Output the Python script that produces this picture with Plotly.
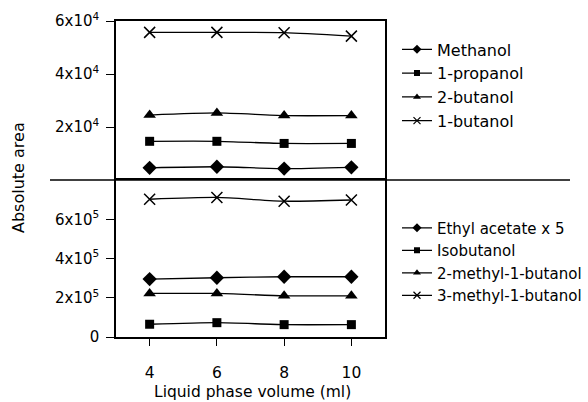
import plotly.graph_objects as go

# Liquid phase volume (ml)
volume = [4, 6, 8, 10]

# Upper panel: absolute peak areas
methanol = [4600, 5000, 4300, 4800]
propanol_1 = [14600, 14600, 13800, 13800]
butanol_2 = [24500, 25300, 24300, 24300]
butanol_1 = [55700, 55700, 55600, 54300]

# Lower panel: absolute peak areas
ethyl_acetate_x5 = [295000, 302000, 307000, 307000]
isobutanol = [65000, 73000, 63000, 63000]
methyl_2_butanol_1 = [222000, 222000, 210000, 210000]
methyl_3_butanol_1 = [702000, 711000, 692000, 698000]

top_ticks = [20000, 40000, 60000]
top_ticktext = ["2x10<sup>4</sup>", "4x10<sup>4</sup>", "6x10<sup>4</sup>"]
bottom_ticks = [0, 200000, 400000, 600000]
bottom_ticktext = ["0", "2x10<sup>5</sup>", "4x10<sup>5</sup>", "6x10<sup>5</sup>"]

FONT = "DejaVu Sans"
BLACK = "black"

plot_markers = {
    "diamond": dict(symbol="diamond", size=11),
    "square": dict(symbol="square", size=9),
    "triangle": dict(symbol="triangle-up", size=11),
    "x": dict(symbol="x-thin-open", size=11, line=dict(width=1.5, color=BLACK)),
}
legend_markers = {
    "diamond": dict(symbol="diamond", size=7),
    "square": dict(symbol="square", size=6),
    "triangle": dict(symbol="triangle-up", size=7),
    "x": dict(symbol="x-thin-open", size=7, line=dict(width=1.2, color=BLACK)),
}

fig = go.Figure()


def add_series(name, values, marker_key, yaxis, legend):
    xaxis = "x" if yaxis == "y" else "x2"
    line = dict(color=BLACK, width=1.3, shape="spline", smoothing=0.6)
    fig.add_trace(go.Scatter(
        x=volume, y=values, name=name, mode="lines+markers",
        line=line, marker=dict(color=BLACK, **plot_markers[marker_key]),
        xaxis=xaxis, yaxis=yaxis, showlegend=False,
    ))
    # legend entry with a smaller symbol
    fig.add_trace(go.Scatter(
        x=[None], y=[None], name=name, mode="lines+markers",
        line=dict(color=BLACK, width=1.3),
        marker=dict(color=BLACK, **legend_markers[marker_key]),
        xaxis=xaxis, yaxis=yaxis, legend=legend, showlegend=True,
    ))


add_series("Methanol", methanol, "diamond", "y2", "legend")
add_series("1-propanol", propanol_1, "square", "y2", "legend")
add_series("2-butanol", butanol_2, "triangle", "y2", "legend")
add_series("1-butanol", butanol_1, "x", "y2", "legend")

add_series("Ethyl acetate x 5", ethyl_acetate_x5, "diamond", "y", "legend2")
add_series("Isobutanol", isobutanol, "square", "y", "legend2")
add_series("2-methyl-1-butanol", methyl_2_butanol_1, "triangle", "y", "legend2")
add_series("3-methyl-1-butanol", methyl_3_butanol_1, "x", "y", "legend2")

split = 157 / 316

axis_common = dict(showline=True, linecolor=BLACK, linewidth=1.5,
                   showgrid=False, zeroline=False)

fig.update_layout(
    width=588, height=402,
    margin=dict(l=116, r=203, t=21, b=65, autoexpand=False),
    paper_bgcolor="white", plot_bgcolor="white",
    font=dict(family=FONT, color=BLACK, size=15),
    xaxis=dict(**axis_common, mirror=True, range=[3, 11], tickvals=volume,
               ticks="outside", ticklen=7, tickwidth=1.3, tickcolor=BLACK,
               ticklabelstandoff=14, tickfont=dict(size=15.5)),
    xaxis2=dict(**axis_common, mirror=False, side="top", range=[3, 11],
                anchor="y2", showticklabels=False, ticks=""),
    yaxis=dict(**axis_common, mirror=True, domain=[0, split],
               range=[0, 800000],
               tickvals=bottom_ticks, ticktext=bottom_ticktext,
               ticks="outside", ticklen=8, tickwidth=1.3, tickcolor=BLACK,
               ticklabelstandoff=4, tickfont=dict(size=15)),
    yaxis2=dict(**axis_common, mirror=True, domain=[split, 1],
                range=[0, 60000],
                tickvals=top_ticks, ticktext=top_ticktext,
                ticks="outside", ticklen=8, tickwidth=1.3, tickcolor=BLACK,
                ticklabelstandoff=4, tickfont=dict(size=15)),
    legend=dict(x=1.0446, y=0.964, xanchor="left", yanchor="top",
                bgcolor="rgba(0,0,0,0)", font=dict(size=16),
                itemwidth=30, tracegroupgap=0),
    legend2=dict(x=1.0446, y=0.397, xanchor="left", yanchor="top",
                 bgcolor="rgba(0,0,0,0)", font=dict(size=15),
                 itemwidth=30, tracegroupgap=0),
    showlegend=True,
)

# Divider between the two panels
fig.add_shape(type="line", xref="paper", yref="paper",
              x0=(50 - 116) / 269, x1=(570 - 116) / 269, y0=split, y1=split,
              line=dict(color=BLACK, width=1.5))

fig.add_annotation(text="Liquid phase volume (ml)", xref="paper", yref="paper",
                   x=(252 - 116) / 269, y=-(392 - 337) / 316,
                   showarrow=False, font=dict(size=15.5),
                   xanchor="center", yanchor="middle")
fig.add_annotation(text="Absolute area", xref="paper", yref="paper",
                   x=(18 - 116) / 269, y=(337 - 178) / 316, textangle=-90,
                   showarrow=False, font=dict(size=16),
                   xanchor="center", yanchor="middle")

fig.write_html("out.html")
